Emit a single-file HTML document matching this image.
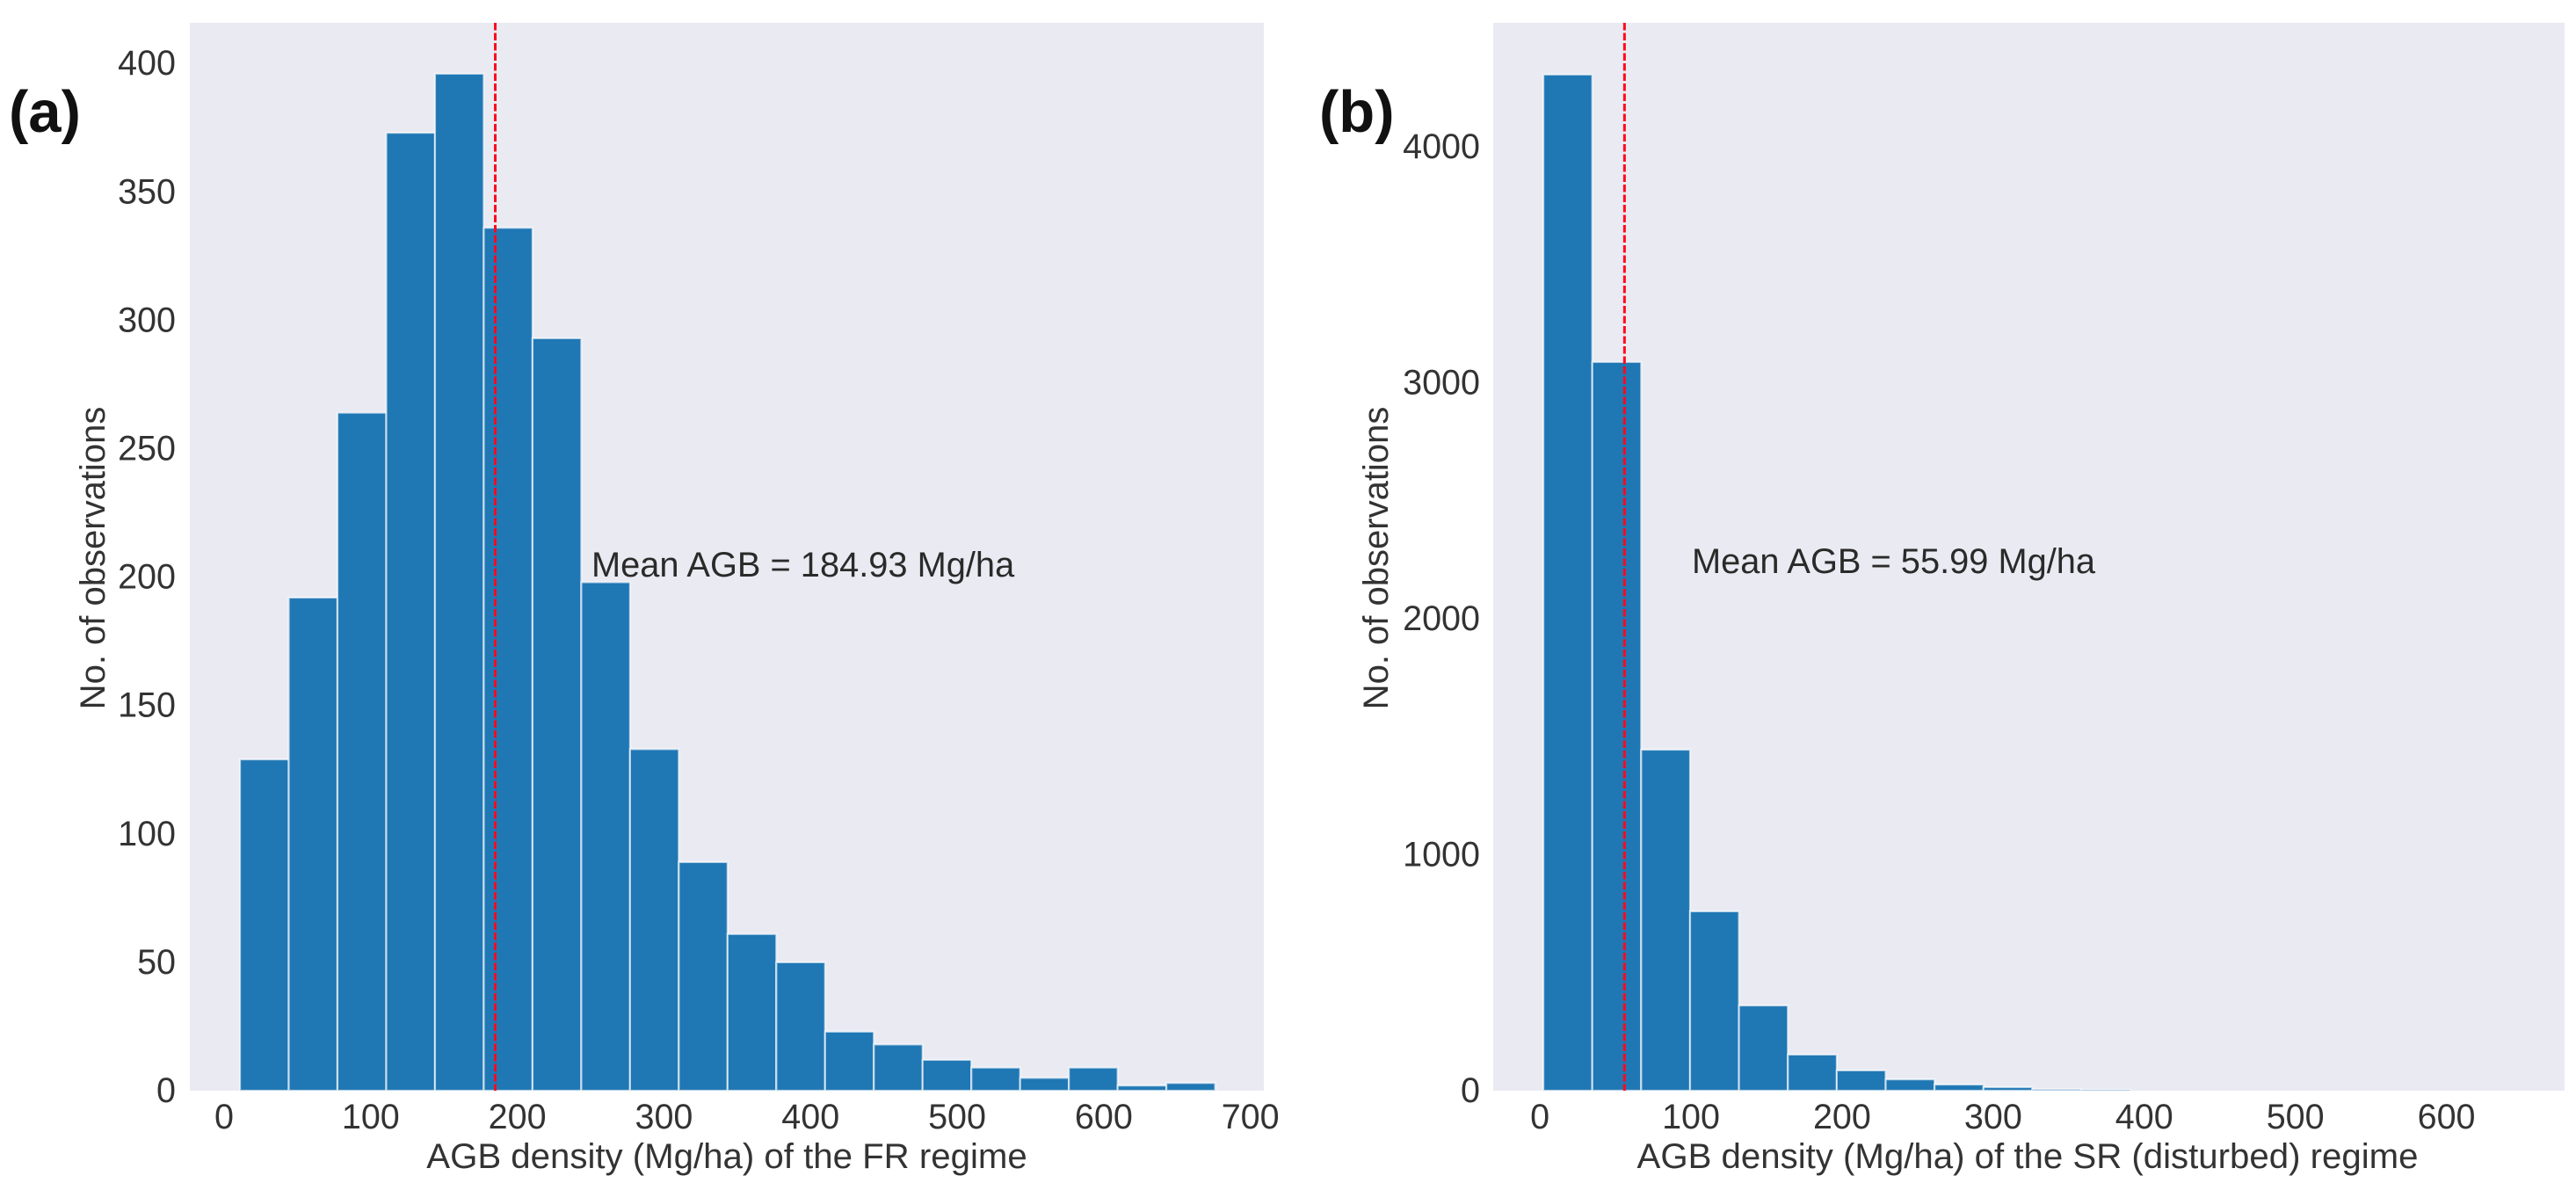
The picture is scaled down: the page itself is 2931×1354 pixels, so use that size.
<!DOCTYPE html>
<html lang="en">
<head>
<meta charset="utf-8">
<title>AGB density histograms</title>
<style>
  html, body { margin: 0; padding: 0; background: #ffffff; }
  body { width: 2931px; height: 1354px; overflow: hidden; }
  svg { display: block; font-family: "Liberation Sans", Arial, sans-serif; }
</style>
</head>
<body>
<svg id="figure" xmlns="http://www.w3.org/2000/svg" width="2931" height="1354" viewBox="0 0 2931 1354"></svg>
<script>
// ---- Panel (a) data ----
const frCounts = [129, 192, 264, 373, 396, 336, 293, 198, 133, 89, 61, 50, 23, 18, 12, 9, 5, 9, 2, 3];
const frBinMin = 10.8;
const frBinMax = 676;
const frMean = 184.93;
const frXTicks = [0, 100, 200, 300, 400, 500, 600, 700];
const frYTicks = [0, 50, 100, 150, 200, 250, 300, 350, 400];
const frMeanLabel = "Mean AGB = 184.93 Mg/ha";
const frXTitle = "AGB density (Mg/ha) of the FR regime";

// ---- Panel (b) data ----
const srCounts = [4306, 3088, 1445, 760, 361, 153, 86, 48, 26, 15, 6, 4, 0, 0, 0, 0, 0, 0, 0, 0];
const srBinMin = 2.3;
const srBinMax = 649.6;
const srMean = 55.99;
const srXTicks = [0, 100, 200, 300, 400, 500, 600];
const srYTicks = [0, 1000, 2000, 3000, 4000];
const srMeanLabel = "Mean AGB = 55.99 Mg/ha";
const srXTitle = "AGB density (Mg/ha) of the SR (disturbed) regime";

const yTitle = "No. of observations";

const SVG_NS = "http://www.w3.org/2000/svg";
const figure = document.getElementById("figure");

function linear(d0, d1, r0, r1) {
  return function (v) { return r0 + (v - d0) * (r1 - r0) / (d1 - d0); };
}

function make(parent, tag, attrs, text) {
  const node = document.createElementNS(SVG_NS, tag);
  for (const key in attrs) node.setAttribute(key, attrs[key]);
  if (text !== undefined) node.textContent = text;
  parent.appendChild(node);
  return node;
}

function drawPanel(o) {
  const x = linear(o.xDomain[0], o.xDomain[1], o.left, o.right);
  const y = linear(0, o.yDomainMax, o.bottom, o.top);

  const g = make(figure, "g", {});
  
  

  const bg = make(g, "rect", { x: o.left, y: o.top, width: o.right - o.left, height: o.bottom - o.top, fill: "#eaeaf2" });
  
  

  const binSize = (o.binMax - o.binMin) / o.counts.length;
  o.counts.forEach(function (count, i) {
    const x0 = x(o.binMin + i * binSize);
    const x1 = x(o.binMin + (i + 1) * binSize);
    const bar = make(g, "rect", {
      x: x0, y: y(count), width: x1 - x0, height: y(0) - y(count),
      fill: "#1f77b4", stroke: "#ffffff", "stroke-width": 2.2, "stroke-opacity": 0.65
    });
    
    
  });

  const meanLine = make(g, "line", {
    x1: x(o.mean), x2: x(o.mean), y1: o.top, y2: o.bottom,
    stroke: "#ff0a1e", "stroke-width": 3, "stroke-dasharray": "8.5 3"
  });
  
  

  o.xTicks.forEach(function (t) {
    const label = make(g, "text", { x: x(t), y: 1284, "text-anchor": "middle", "font-size": 39.5, fill: "#333333" }, String(t));
    
    
  });

  o.yTicks.forEach(function (t) {
    const label = make(g, "text", { x: o.yLabelRight, y: y(t) + 13, "text-anchor": "end", "font-size": 39.5, fill: "#333333" }, String(t));
    
    
  });

  const xt = make(g, "text", { x: o.xTitleCenter, y: 1329, "text-anchor": "middle", "font-size": 40.2, fill: "#333333" }, o.xTitle);
  
  

  const yt = make(g, "text", {
    transform: "translate(" + o.yTitleX + ",635) rotate(-90)",
    "text-anchor": "middle", "font-size": 40, fill: "#333333"
  }, yTitle);
  
  

  const ann = make(g, "text", { x: o.annX, y: o.annY, "font-size": 39.8, fill: "#2a2a2a" }, o.meanLabel);
  
  

  const tag = make(g, "text", { x: o.tagX, y: 150, "font-size": 67, "font-weight": "bold", fill: "#111111" }, o.tag);
  
  
}

drawPanel({
  name: "panel-a", tag: "(a)", tagX: 10,
  counts: frCounts, binMin: frBinMin, binMax: frBinMax, mean: frMean,
  xTicks: frXTicks, yTicks: frYTicks, xTitle: frXTitle, meanLabel: frMeanLabel,
  xDomain: [-23.4, 709.2], yDomainMax: 415.8,
  left: 216, right: 1438, top: 26, bottom: 1241,
  yLabelRight: 200, xTitleCenter: 827, yTitleX: 119, annX: 673, annY: 656
});

drawPanel({
  name: "panel-b", tag: "(b)", tagX: 1501,
  counts: srCounts, binMin: srBinMin, binMax: srBinMax, mean: srMean,
  xTicks: srXTicks, yTicks: srYTicks, xTitle: srXTitle, meanLabel: srMeanLabel,
  xDomain: [-30.9, 678.2], yDomainMax: 4525,
  left: 1699, right: 2918, top: 26, bottom: 1241,
  yLabelRight: 1684, xTitleCenter: 2307, yTitleX: 1579, annX: 1925, annY: 652
});
</script>
</body>
</html>
